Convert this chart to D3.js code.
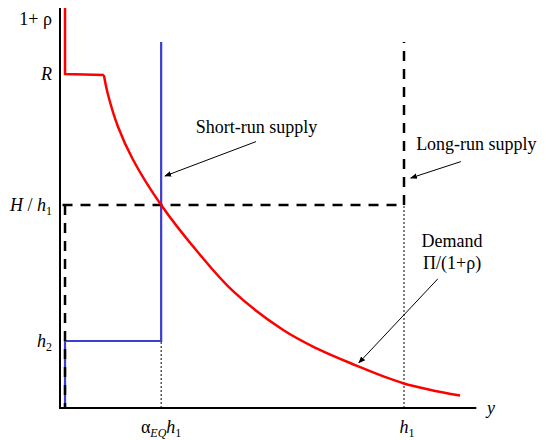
<!DOCTYPE html>
<html>
<head>
<meta charset="utf-8">
<script src="https://cdn.jsdelivr.net/npm/d3@7"></script>
<style>
  body { margin: 0; background: #fff; }
  svg text { font-family: "Liberation Serif", "Times New Roman", serif; font-size: 18px; fill: #000; }
</style>
</head>
<body>
<div id="theChart"></div>
<script>
// values (arbitrary units, 0..100 on both axes)
const demandTop = [[1.2, 100], [1.2, 83.5], [10.5, 83.25]]
const demand = [
  [10.5, 83.25], [11.4, 78.7], [13.9, 70.25], [17.5, 62], [24.2, 50.75],
  [33.1, 38.8], [41.4, 29.2], [53.4, 19.5], [61.4, 14.9], [69.4, 11.25],
  [82.1, 6.2], [95.7, 3.1]
]
const shortRun = [[1.2, 0], [1.2, 16.75], [24.2, 16.75], [24.2, 91.5]]
const longRunH = [[0.6, 50.75], [82.3, 50.75]]
const longRunLeft = [[1.2, 50.75], [1.2, 0]]
const longRunV = [[82.3, 50.75], [82.3, 91.5]]
const guides = [
  [[24.2, 0], [24.2, 16.75]],
  [[82.3, 0], [82.3, 50.75]]
]
const yTickVals = [97.3, 83.5, 50.75, 16.75]
const xTickVals = [24.2, 82.3]
const notes = [
  { lines: ["Short-run supply"], at: [47, 68.8], anchor: "middle", from: [46.9, 66.6], to: [25.1, 58] },
  { lines: ["Long-run supply"], at: [85.2, 64.6], anchor: "start", from: [95.9, 61.6], to: [83.9, 57.5] },
  { lines: ["Demand", "\u03a0/(1+\u03c1)"], at: [93.8, 40.3], anchor: "middle", from: [90.4, 32.3], to: [71.5, 11.3] }
]

const w = 546
const h = 440
const x = d3.scaleLinear().domain([0, 100]).range([60, 478])
const y = d3.scaleLinear().domain([0, 100]).range([408, 8])

const svg = d3.select("#theChart").append("svg")
  .attr("width", w).attr("height", h)

svg.append("defs").append("marker")
  .attr("id", "arr")
  .attr("viewBox", "0 0 10 10")
  .attr("refX", 9).attr("refY", 5)
  .attr("markerWidth", 7).attr("markerHeight", 7)
  .attr("orient", "auto")
  .append("path").attr("d", "M0,1 L10,5 L0,9 Z").attr("fill", "#000")

const line = d3.line().x(d => x(d[0])).y(d => y(d[1]))
const smooth = d3.line().x(d => x(d[0])).y(d => y(d[1])).curve(d3.curveCatmullRom.alpha(0.5))

// dotted guides
guides.forEach(g => {
  svg.append("path").attr("d", line(g))
    .attr("fill", "none").attr("stroke", "#000")
    .attr("stroke-width", 1).attr("stroke-dasharray", "2,2")
})

// short-run supply (blue)
svg.append("path").attr("d", line(shortRun))
  .attr("fill", "none").attr("stroke", "#3d3dd2").attr("stroke-width", 2.2)

// long-run supply (dashed black)
;[longRunH, longRunLeft, longRunV].forEach(seg => {
  svg.append("path").attr("d", line(seg))
    .attr("fill", "none").attr("stroke", "#000")
    .attr("stroke-width", 2.5).attr("stroke-dasharray", "10,8")
})

// demand (red)
svg.append("path").attr("d", line(demandTop))
  .attr("fill", "none").attr("stroke", "#ff0000").attr("stroke-width", 2.5)
svg.append("path").attr("d", smooth(demand))
  .attr("fill", "none").attr("stroke", "#ff0000").attr("stroke-width", 2.5)

// axes
svg.append("line").attr("x1", x(0)).attr("x2", x(0)).attr("y1", y(100)).attr("y2", y(0))
  .attr("stroke", "#000").attr("stroke-width", 2)
svg.append("line").attr("x1", x(0) - 1).attr("x2", x(99.6)).attr("y1", y(0)).attr("y2", y(0))
  .attr("stroke", "#000").attr("stroke-width", 2)

// y tick labels
const yl = svg.selectAll(".ylab").data(yTickVals).enter().append("text")
  .attr("class", "ylab")
  .attr("x", 52).attr("y", d => y(d)).attr("dy", "0.35em")
  .attr("text-anchor", "end")
yl.each(function (d, i) {
  const t = d3.select(this)
  if (i === 0) {
    t.text("1+ \u03c1")
  } else if (i === 1) {
    t.append("tspan").attr("font-style", "italic").text("R")
  } else if (i === 2) {
    t.append("tspan").attr("font-style", "italic").text("H")
    t.append("tspan").text(" / ")
    t.append("tspan").attr("font-style", "italic").text("h")
    t.append("tspan").attr("font-size", "12px").attr("dy", 4).text("1")
  } else {
    t.append("tspan").attr("font-style", "italic").text("h")
    t.append("tspan").attr("font-size", "12px").attr("dy", 4).text("2")
  }
})

// x tick labels
const xl = svg.selectAll(".xlab").data(xTickVals).enter().append("text")
  .attr("class", "xlab")
  .attr("x", d => x(d) + (d > 50 ? 3 : 0)).attr("y", 433)
  .attr("text-anchor", "middle")
xl.each(function (d, i) {
  const t = d3.select(this)
  if (i === 0) {
    t.append("tspan").text("\u03b1")
    t.append("tspan").attr("font-size", "12px").attr("font-style", "italic").attr("dy", 4).text("EQ")
    t.append("tspan").attr("font-style", "italic").attr("dy", -4).text("h")
    t.append("tspan").attr("font-size", "12px").attr("dy", 4).text("1")
  } else {
    t.append("tspan").attr("font-style", "italic").text("h")
    t.append("tspan").attr("font-size", "12px").attr("dy", 4).text("1")
  }
})

svg.append("text").attr("x", 487).attr("y", 414)
  .attr("font-style", "italic").text("y")

// annotations
notes.forEach(n => {
  const t = svg.append("text").attr("x", x(n.at[0])).attr("y", y(n.at[1]))
    .attr("text-anchor", n.anchor)
  n.lines.forEach((s, i) => {
    t.append("tspan").attr("x", x(n.at[0])).attr("dy", i === 0 ? 0 : 22).text(s)
  })
  svg.append("line")
    .attr("x1", x(n.from[0])).attr("y1", y(n.from[1]))
    .attr("x2", x(n.to[0])).attr("y2", y(n.to[1]))
    .attr("stroke", "#000").attr("stroke-width", 1)
    .attr("marker-end", "url(#arr)")
})
</script>
</body>
</html>
